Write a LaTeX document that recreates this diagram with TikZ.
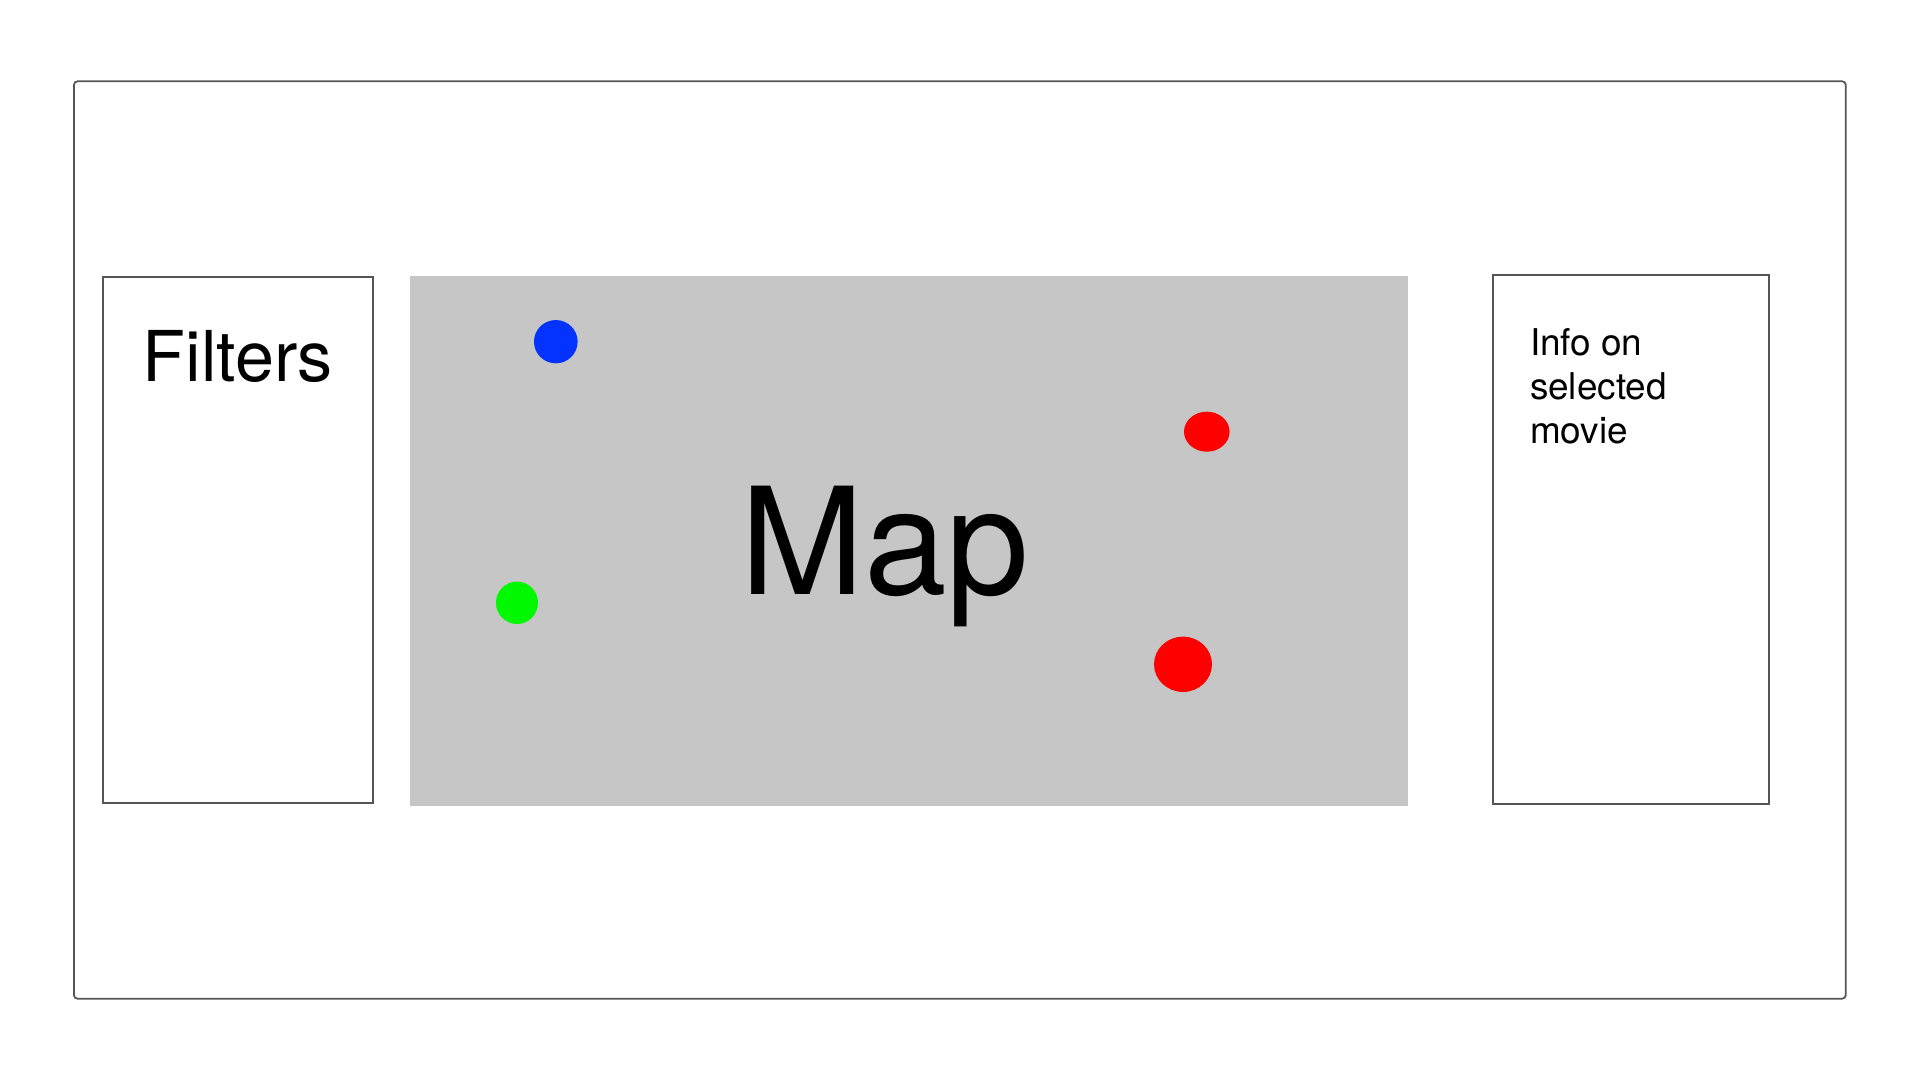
\documentclass[tikz,border=0pt]{standalone}
\usepackage{fontspec}
\setmainfont{TeX Gyre Heros}
\usepackage{tikz}
\usepackage{xcolor}
\usetikzlibrary{shapes.geometric}
\usetikzlibrary{positioning}
\definecolor{frame}{HTML}{555555}
\definecolor{mapgray}{HTML}{C6C6C6}
\definecolor{pinblue}{HTML}{0433FF}
\definecolor{pinred}{HTML}{FF0000}
\definecolor{pingreen}{HTML}{00F900}

\begin{document}
\begin{tikzpicture}
	[line width=0.5pt, panel/.style = {draw=frame, rectangle, inner sep=0pt}, pin/.style = {ellipse, inner sep=0pt}]
	\useasboundingbox (0,0) rectangle (19.2,10.8);
	\node[panel, rounded corners=1pt, minimum width=17.717cm, minimum height=9.174cm] (screen) at (9.5985,5.4) {};
	\node[panel, minimum width=2.698cm, minimum height=5.266cm] (filters) at (2.378,5.4) {};
	\node[rectangle, fill=mapgray, minimum width=9.98cm, minimum height=5.297cm, inner sep=0pt] (map) at (9.09,5.3915) {};
	\node[panel, minimum width=2.757cm, minimum height=5.296cm] (info) at (16.3085,5.405) {};
	\node[inner sep=0pt, font=\fontsize{19.95pt}{24pt}\selectfont] (filterstext) [below = 1.06cm of filters.north, anchor=base] {Filters};
	\node[inner sep=0pt, font=\fontsize{42.3pt}{50pt}\selectfont] (maptext) [below left = 0.5345cm and 0.24cm of map.center, anchor=base] {Map};
	\node[inner sep=0pt, align=left, font=\fontsize{10.5pt}{12.6pt}\selectfont] (infotext) [below right = 1.70cm and 0.37cm of info.north west, anchor=base west] {Info on\\selected\\movie};
	\node[pin, fill=pinblue, minimum width=0.437cm, minimum height=0.433cm] (bluepin) at (5.558,7.383) {};
	\node[pin, fill=pinred, minimum width=0.456cm, minimum height=0.40cm] (redpin1) at (12.068,6.483) {};
	\node[pin, fill=pingreen, minimum width=0.42cm, minimum height=0.424cm] (greenpin) at (5.17,4.772) {};
	\node[pin, fill=pinred, minimum width=0.58cm, minimum height=0.553cm] (redpin2) at (11.83,4.157) {};
\end{tikzpicture}
\end{document}
